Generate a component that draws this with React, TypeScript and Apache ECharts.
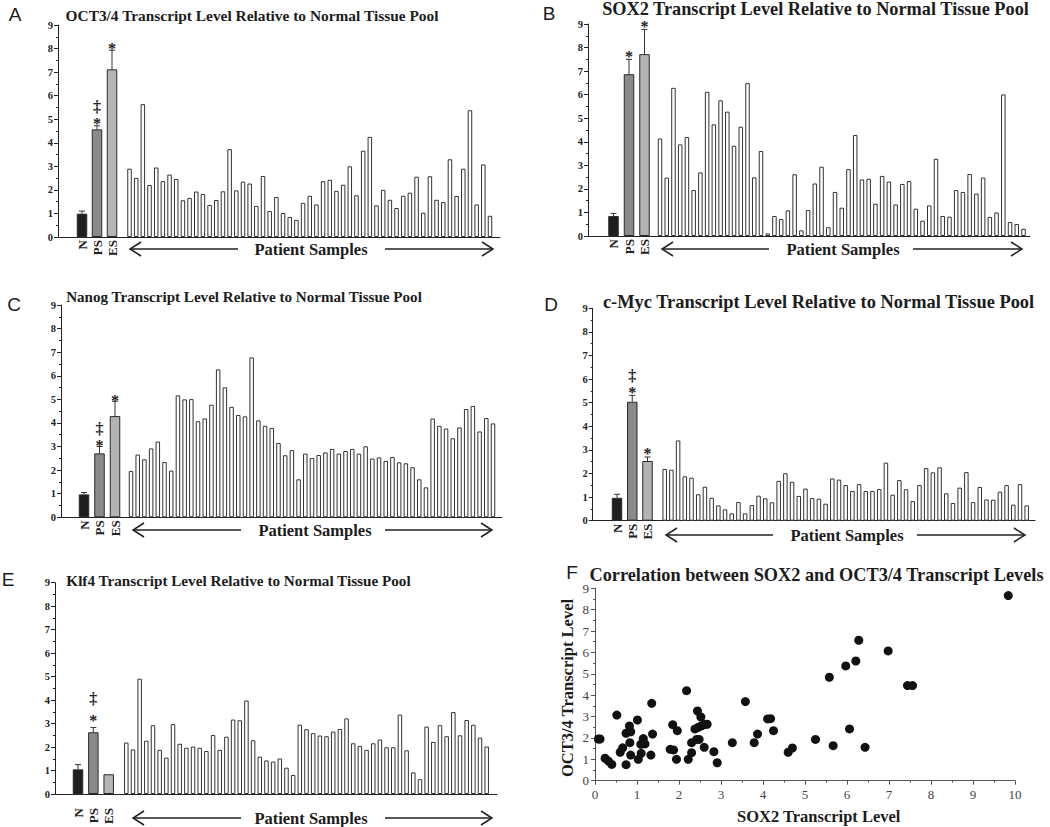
import { useEffect, useRef } from 'react';
import * as echarts from 'echarts';

// ---------- DATA ----------
const controlLabels = ['N', 'PS', 'ES'];
const yTickValues = [0, 1, 2, 3, 4, 5, 6, 7, 8, 9];

const octControl = [0.99, 4.57, 7.12];
const octError = [0.11, 0.15, 0.81];
const octMarks = ['', '‡*', '*'];
const octPatients = [
  2.90, 2.51, 5.64, 2.21, 2.95, 2.37, 2.65, 2.46, 1.56, 1.66,
  1.93, 1.83, 1.36, 1.57, 1.94, 3.73, 1.98, 2.35, 2.27, 1.32,
  2.59, 1.10, 1.70, 1.02, 0.85, 0.73, 1.45, 1.75, 1.38, 2.37,
  2.43, 1.96, 2.22, 3.00, 1.77, 3.66, 4.25, 1.34, 2.00, 1.58,
  1.23, 1.75, 1.88, 2.56, 1.03, 2.58, 1.58, 1.48, 3.30, 1.74,
  2.90, 5.38, 1.38, 3.08, 0.90,
];

const sox2Control = [0.85, 6.87, 7.72];
const sox2Error = [0.11, 0.63, 1.05];
const sox2Marks = ['', '*', '*'];
const sox2Patients = [
  4.14, 2.48, 6.29, 3.89, 4.20, 1.95, 2.70, 6.12, 4.74, 5.76,
  5.28, 3.83, 4.64, 6.49, 2.49, 3.61, 0.11, 0.85, 0.72, 1.09,
  2.62, 0.24, 1.10, 2.23, 2.94, 0.37, 1.87, 1.20, 2.84, 4.29,
  2.40, 2.43, 1.37, 2.55, 2.31, 1.34, 2.21, 2.33, 1.16, 0.65,
  1.30, 3.28, 0.85, 0.82, 1.95, 1.87, 2.63, 1.80, 2.48, 0.81,
  1.00, 6.01, 0.59, 0.51, 0.31,
];

const nanogControl = [0.97, 2.71, 4.29];
const nanogError = [0.08, 0.29, 0.63];
const nanogMarks = ['', '‡*', '*'];
const nanogPatients = [
  1.96, 2.66, 2.46, 2.92, 3.21, 2.34, 1.98, 5.17, 5.00, 5.01,
  4.07, 4.19, 4.77, 6.27, 5.51, 4.68, 4.34, 4.28, 6.78, 4.11,
  3.88, 3.79, 3.15, 2.63, 2.85, 1.61, 2.70, 2.51, 2.64, 2.75,
  2.90, 2.70, 2.81, 2.90, 2.70, 3.01, 2.49, 2.54, 2.39, 2.56,
  2.33, 2.29, 2.12, 1.61, 1.27, 4.19, 3.88, 3.76, 3.35, 3.81,
  4.59, 4.72, 3.64, 4.21, 3.98,
];

const mycControl = [0.97, 5.04, 2.53];
const mycError = [0.15, 0.27, 0.17];
const mycMarks = ['', '‡*', '*'];
const mycPatients = [
  2.19, 2.16, 3.40, 1.88, 1.82, 1.12, 1.44, 0.97, 0.65, 0.48,
  0.31, 0.79, 0.31, 0.66, 1.06, 0.95, 0.78, 1.69, 2.01, 1.65,
  1.05, 1.36, 0.96, 0.93, 0.72, 1.79, 1.74, 1.51, 1.26, 1.55,
  1.26, 1.26, 1.34, 2.46, 1.10, 1.72, 1.33, 0.83, 1.51, 2.23,
  2.05, 2.26, 1.16, 0.75, 1.40, 2.06, 0.79, 1.43, 0.90, 0.89,
  1.23, 1.51, 0.68, 1.55, 0.65,
];

const klf4Control = [1.05, 2.63, 0.84];
const klf4Error = [0.20, 0.20, 0.02];
const klf4Marks = ['', '‡*', ''];
const klf4Patients = [
  2.19, 1.90, 4.91, 2.27, 2.93, 1.88, 1.55, 2.98, 2.14, 1.97,
  2.02, 1.97, 1.83, 2.51, 1.88, 2.44, 3.17, 3.14, 3.98, 2.29,
  1.59, 1.43, 1.38, 1.51, 1.12, 0.81, 2.95, 2.76, 2.59, 2.49,
  2.46, 2.66, 2.77, 3.22, 2.16, 2.05, 1.88, 2.16, 2.32, 1.99,
  1.99, 3.38, 1.86, 0.92, 0.63, 2.87, 2.22, 2.93, 2.46, 3.49,
  2.50, 3.15, 2.95, 2.40, 2.02,
];

const scatterSox2 = [
  0.08, 0.12, 0.24, 0.32, 0.40, 0.52, 0.60, 0.66, 0.74, 0.74,
  0.82, 0.85, 0.83, 0.85, 1.01, 1.03, 1.09, 1.10, 1.15, 1.19,
  1.33, 1.35, 1.37, 1.85, 1.79, 1.87, 1.96, 1.94, 2.18, 2.22,
  2.30, 2.30, 2.38, 2.44, 2.42, 2.48, 2.52, 2.46, 2.54, 2.62,
  2.67, 2.60, 2.83, 2.91, 3.27, 3.58, 3.79, 3.87, 4.11, 4.18,
  4.25, 4.60, 4.70, 5.25, 5.58, 5.67, 5.97, 6.06, 6.21, 6.28,
  6.43, 6.98, 7.44, 7.56, 9.84,
];
const scatterOct = [
  1.95, 1.95, 1.05, 0.92, 0.76, 3.07, 1.33, 1.54, 2.22, 0.75,
  2.56, 2.29, 1.78, 1.20, 2.84, 1.00, 1.70, 1.28, 1.97, 1.72,
  1.20, 3.62, 2.18, 2.62, 1.47, 1.44, 2.34, 1.00, 4.21, 1.00,
  1.31, 1.78, 2.42, 3.26, 1.93, 1.93, 2.98, 2.50, 2.57, 2.64,
  2.64, 1.56, 1.36, 0.84, 1.78, 3.70, 1.78, 2.18, 2.89, 2.90,
  2.34, 1.33, 1.53, 1.93, 4.84, 1.64, 5.37, 2.42, 5.60, 6.57,
  1.56, 6.07, 4.45, 4.45, 8.66,
];

const patientIds = octPatients.map((_, i) => 'P' + (i + 1));

// ---------- LAYOUT ----------
const SERIF = '"Liberation Serif", "Times New Roman", serif';
const SANS = '"Liberation Sans", Arial, sans-serif';
const INK = '#1c1c1c';

type Panel = {
  letter: string; lx: number; ly: number;
  title: string; tx: number; ty: number; tsize: number;
  axisX: number; top: number; bottom: number; endX: number;
  ctrl: number[]; patFirst: number; patLast: number;
  controls: number[]; errors: number[]; marks: string[]; patients: number[];
  labelMargin: number; arrowY: number; leftArrow: number[]; textX: number; rightArrow: number[];
  starGap: number; daggerGap: number;
};

const panels: Panel[] = [
  {
    letter: 'A', lx: 15, ly: 14, title: 'OCT3/4 Transcript Level Relative to Normal Tissue Pool', tx: 252, ty: 15, tsize: 15.4,
    axisX: 58, top: 25, bottom: 237, endX: 500, ctrl: [82, 97, 112], patFirst: 129.5, patLast: 490,
    controls: octControl, errors: octError, marks: octMarks, patients: octPatients,
    labelMargin: 3, arrowY: 249, leftArrow: [130, 238], textX: 311, rightArrow: [385, 493], starGap: 2, daggerGap: 16,
  },
  {
    letter: 'B', lx: 549, ly: 13, title: 'SOX2 Transcript Level Relative to Normal Tissue Pool', tx: 815.5, ty: 9, tsize: 18.3,
    axisX: 588, top: 24, bottom: 236, endX: 1030, ctrl: [613.5, 629, 644.5], patFirst: 660, patLast: 1023.5,
    controls: sox2Control, errors: sox2Error, marks: sox2Marks, patients: sox2Patients,
    labelMargin: 3, arrowY: 249, leftArrow: [662, 769], textX: 843, rightArrow: [913, 1022], starGap: 2.5, daggerGap: 17,
  },
  {
    letter: 'C', lx: 14, ly: 304, title: 'Nanog Transcript Level Relative to Normal Tissue Pool', tx: 244, ty: 297, tsize: 15.1,
    axisX: 61, top: 305, bottom: 517.3, endX: 502, ctrl: [84, 99.5, 115], patFirst: 131, patLast: 493,
    controls: nanogControl, errors: nanogError, marks: nanogMarks, patients: nanogPatients,
    labelMargin: 3, arrowY: 530, leftArrow: [133, 241], textX: 315, rightArrow: [385, 492], starGap: 1, daggerGap: 18,
  },
  {
    letter: 'D', lx: 551, ly: 304, title: 'c-Myc Transcript Level Relative to Normal Tissue Pool', tx: 818.5, ty: 302, tsize: 18.4,
    axisX: 592.7, top: 308.3, bottom: 520.7, endX: 1035, ctrl: [617, 632.3, 647.5], patFirst: 664.7, patLast: 1026.7,
    controls: mycControl, errors: mycError, marks: mycMarks, patients: mycPatients,
    labelMargin: 3, arrowY: 535, leftArrow: [666, 773], textX: 847, rightArrow: [917, 1025], starGap: 3, daggerGap: 20,
  },
  {
    letter: 'E', lx: 8, ly: 579, title: 'Klf4 Transcript Level Relative to Normal Tissue Pool', tx: 238.5, ty: 580, tsize: 15.2,
    axisX: 55, top: 582.7, bottom: 794, endX: 497, ctrl: [78, 93.5, 108.7], patFirst: 126.3, patLast: 486.7,
    controls: klf4Control, errors: klf4Error, marks: klf4Marks, patients: klf4Patients,
    labelMargin: 14, arrowY: 818, leftArrow: [133, 241], textX: 311, rightArrow: [385, 492], starGap: 7.5, daggerGap: 29.5,
  },
];

const ctrlColors = ['#1e1e1e', '#8a8a8a', '#b4b4b4'];

function centeredText(x: number, y: number, text: string, font: string, extra: any = {}) {
  return {
    type: 'text', x, y, ...extra,
    style: { text, font, fill: INK, align: 'center', verticalAlign: 'middle', textAlign: 'center', textVerticalAlign: 'middle' },
  };
}

function buildOption() {
  const grid: any[] = [];
  const xAxis: any[] = [];
  const yAxis: any[] = [];
  const series: any[] = [];
  const graphic: any[] = [];

  panels.forEach((p) => {
    const h = p.bottom - p.top;
    const gMain = grid.length;
    grid.push({ left: p.axisX, top: p.top, width: p.endX - p.axisX, height: h, outerBoundsMode: 'none', containLabel: false });
    const cs = (p.ctrl[2] - p.ctrl[0]) / 2;
    const gCtrl = grid.length;
    grid.push({ left: p.ctrl[0] - cs / 2, top: p.top, width: cs * 3, height: h, outerBoundsMode: 'none', containLabel: false });
    const ps = (p.patLast - p.patFirst) / (p.patients.length - 1);
    const gPat = grid.length;
    grid.push({ left: p.patFirst - ps / 2, top: p.top, width: ps * p.patients.length, height: h, outerBoundsMode: 'none', containLabel: false });

    xAxis.push({
      type: 'value', gridIndex: gMain, min: 0, max: 1,
      axisLine: { show: true, lineStyle: { color: '#222', width: 1 } },
      axisTick: { show: false }, axisLabel: { show: false }, splitLine: { show: false },
    });
    yAxis.push({
      type: 'value', gridIndex: gMain, min: 0, max: 9, interval: 1,
      axisLine: { show: true, lineStyle: { color: '#222', width: 1 } },
      axisTick: { show: true, length: 4, lineStyle: { color: '#222' } },
      minorTick: { show: true, splitNumber: 2, length: 2, lineStyle: { color: '#222' } },
      axisLabel: {
        fontFamily: SERIF, fontWeight: 'bold', fontSize: 10.5, color: '#222', margin: 5,
        formatter: (v: number) => (yTickValues.includes(v) ? String(v) : ''),
      },
      splitLine: { show: false }, minorSplitLine: { show: false },
    });

    xAxis.push({
      type: 'category', gridIndex: gCtrl, data: controlLabels,
      axisLine: { show: false }, axisTick: { show: false },
      axisLabel: { interval: 0, hideOverlap: false, rotate: 90, margin: p.labelMargin, fontFamily: SERIF, fontWeight: 'bold', fontSize: 13, color: '#222' },
    });
    yAxis.push({ type: 'value', gridIndex: gCtrl, min: 0, max: 9, show: false });

    xAxis.push({ type: 'category', gridIndex: gPat, data: patientIds, show: false });
    yAxis.push({ type: 'value', gridIndex: gPat, min: 0, max: 9, show: false });

    series.push({
      type: 'bar', xAxisIndex: gCtrl, yAxisIndex: gCtrl, barWidth: 10.5,
      data: p.controls.map((v, i) => ({ value: v, itemStyle: { color: ctrlColors[i] } })),
      itemStyle: { borderColor: '#2a2a2a', borderWidth: 1 },
    });
    const marks = p.marks;
    const sep = Math.max(p.daggerGap - p.starGap, 17);
    series.push({
      type: 'custom', xAxisIndex: gCtrl, yAxisIndex: gCtrl, clip: false, z: 5,
      data: p.controls.map((v, i) => [i, v, p.errors[i]]),
      renderItem: (params: any, api: any) => {
        const i = api.value(0);
        const v = api.value(1);
        const e = api.value(2);
        const base = api.coord([i, v]);
        const top = api.coord([i, v + e]);
        const children: any[] = [];
        if (e > 0.03) {
          children.push({ type: 'line', shape: { x1: base[0], y1: base[1], x2: top[0], y2: top[1] }, style: { stroke: '#333', lineWidth: 1 } });
          children.push({ type: 'line', shape: { x1: top[0] - 3, y1: top[1], x2: top[0] + 3, y2: top[1] }, style: { stroke: '#333', lineWidth: 1 } });
        }
        const m = marks[params.dataIndex] || '';
        const starCenter = top[1] - p.starGap;
        if (m.includes('*')) {
          children.push({
            type: 'text', x: top[0], y: starCenter,
            style: { text: '*', fill: INK, font: 'bold 16px ' + SERIF, align: 'center', verticalAlign: 'middle', textAlign: 'center', textVerticalAlign: 'middle' },
          });
        }
        if (m.includes('‡')) {
          children.push({
            type: 'text', x: top[0], y: starCenter - sep,
            style: { text: '‡', fill: INK, font: 'bold 16px ' + SERIF, align: 'center', verticalAlign: 'middle', textAlign: 'center', textVerticalAlign: 'middle' },
          });
        }
        return { type: 'group', children };
      },
    });
    series.push({
      type: 'bar', xAxisIndex: gPat, yAxisIndex: gPat, barWidth: 4.5,
      data: p.patients,
      itemStyle: { color: '#ffffff', borderColor: '#333', borderWidth: 1 },
    });

    // panel letter and title
    graphic.push(centeredText(p.lx, p.ly, p.letter, '19px ' + SANS));
    graphic.push(centeredText(p.tx, p.ty, p.title, 'bold ' + p.tsize + 'px ' + SERIF));
    // patient samples arrows
    const ay = p.arrowY;
    const [l1, l2] = p.leftArrow;
    const [r1, r2] = p.rightArrow;
    graphic.push({ type: 'line', shape: { x1: l1, y1: ay, x2: l2, y2: ay }, style: { stroke: '#222', lineWidth: 1.5 } });
    graphic.push({ type: 'polyline', shape: { points: [[l1 + 11, ay - 7], [l1, ay], [l1 + 11, ay + 7]] }, style: { stroke: '#222', lineWidth: 1.5, fill: 'none' } });
    graphic.push({ type: 'line', shape: { x1: r1, y1: ay, x2: r2, y2: ay }, style: { stroke: '#222', lineWidth: 1.5 } });
    graphic.push({ type: 'polyline', shape: { points: [[r2 - 11, ay - 7], [r2, ay], [r2 - 11, ay + 7]] }, style: { stroke: '#222', lineWidth: 1.5, fill: 'none' } });
    graphic.push(centeredText(p.textX, ay, 'Patient Samples', 'bold 16.5px ' + SERIF));
  });

  // ---- Panel F scatter ----
  const gF = grid.length;
  grid.push({ left: 595, top: 588.3, width: 420, height: 192.4, outerBoundsMode: 'none', containLabel: false });
  const axisGray = '#555';
  xAxis.push({
    type: 'value', gridIndex: gF, min: 0, max: 10, interval: 1,
    axisLine: { show: true, lineStyle: { color: axisGray } },
    axisTick: { show: true, length: 4, lineStyle: { color: axisGray } },
    minorTick: { show: true, splitNumber: 2, length: 2, lineStyle: { color: axisGray } },
    axisLabel: { fontFamily: SERIF, fontSize: 13, color: '#444', margin: 7 },
    splitLine: { show: false }, minorSplitLine: { show: false },
  });
  yAxis.push({
    type: 'value', gridIndex: gF, min: 0, max: 9, interval: 1,
    axisLine: { show: true, lineStyle: { color: axisGray } },
    axisTick: { show: true, length: 4, lineStyle: { color: axisGray } },
    minorTick: { show: true, splitNumber: 2, length: 2, lineStyle: { color: axisGray } },
    axisLabel: { fontFamily: SERIF, fontSize: 13, color: '#444', margin: 6 },
    splitLine: { show: false }, minorSplitLine: { show: false },
  });
  series.push({
    type: 'scatter', xAxisIndex: gF, yAxisIndex: gF, symbol: 'circle', symbolSize: 9,
    itemStyle: { color: '#111111', opacity: 1 },
    emphasis: { disabled: true },
    data: scatterSox2.map((x, i) => [x, scatterOct[i]]),
  });
  graphic.push(centeredText(572, 572, 'F', '19px ' + SANS));
  graphic.push(centeredText(816.5, 575, 'Correlation between SOX2 and OCT3/4 Transcript Levels', 'bold 18.3px ' + SERIF));
  graphic.push(centeredText(818.7, 816.7, 'SOX2 Transcript Level', 'bold 16.5px ' + SERIF));
  graphic.push(centeredText(567, 688, 'OCT3/4 Transcript Level', 'bold 16.5px ' + SERIF, { rotation: Math.PI / 2 }));

  return {
    animation: false,
    backgroundColor: '#ffffff',
    grid, xAxis, yAxis, series, graphic,
  };
}

export default function App() {
  const ref = useRef<HTMLDivElement>(null);
  useEffect(() => {
    if (!ref.current) return;
    const chart = echarts.init(ref.current, undefined, { renderer: 'svg' });
    chart.setOption(buildOption() as any);
    return () => chart.dispose();
  }, []);
  return <div ref={ref} style={{ position: 'fixed', left: 0, top: 0, width: 1050, height: 827 }} />;
}
